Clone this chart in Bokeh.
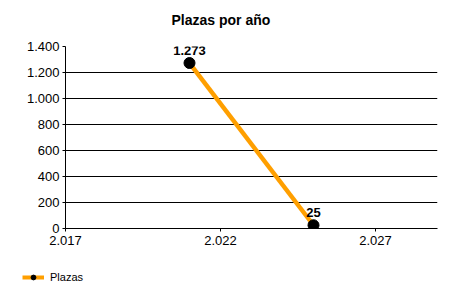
from bokeh.plotting import figure
from bokeh.layouts import column
from bokeh.models import (FixedTicker, CustomJSTickFormatter, Range1d, Legend, LegendItem,
                          ColumnDataSource, LabelSet, Title)
from bokeh.core.properties import value
from bokeh.embed import file_html
from bokeh.resources import INLINE

title = "Plazas por año"
years = [2021, 2025]
plazas = [1273, 25]
value_labels = ["1.273", "25"]
x_ticks = [2017, 2022, 2027]
y_ticks = [0, 200, 400, 600, 800, 1000, 1200, 1400]
series_name = "Plazas"

FONT = "Liberation Sans"
ORANGE = "#FF9F00"

p = figure(width=450, height=262, output_backend="svg", toolbar_location=None,
           x_range=Range1d(2017, 2029), y_range=Range1d(0, 1400),
           min_border_left=65, min_border_right=13, min_border_top=46, min_border_bottom=34)
p.frame_align = False

p.title.text = title
p.title.align = "left"
p.title.text_font = FONT
p.title.text_font_size = "14px"
p.title.text_font_style = "bold"
p.title.text_color = "black"
p.title.offset = 106
p.title.standoff = 0
p.add_layout(Title(text=" ", text_font_size="16px", standoff=0), "above")

p.outline_line_color = None
p.background_fill_color = "white"
p.border_fill_color = "white"

p.xgrid.grid_line_color = None
p.ygrid.grid_line_color = "black"
p.ygrid.grid_line_width = 1
p.ygrid.ticker = FixedTicker(ticks=y_ticks)

fmt = CustomJSTickFormatter(code="""
return Math.round(tick).toString().replace(/\\B(?=(\\d{3})+(?!\\d))/g, '.');
""")

p.xaxis.ticker = FixedTicker(ticks=x_ticks)
p.yaxis.ticker = FixedTicker(ticks=y_ticks)
p.xaxis.formatter = fmt
p.yaxis.formatter = fmt
for ax in (p.xaxis, p.yaxis):
    ax.axis_line_color = "black"
    ax.axis_line_width = 1
    ax.major_tick_line_color = "black"
    ax.major_tick_out = 3
    ax.major_tick_in = 0
    ax.minor_tick_line_color = None
    ax.major_label_text_font = FONT
    ax.major_label_text_font_size = "13px"
    ax.major_label_text_color = "black"
p.xaxis.major_label_standoff = 4
p.yaxis.major_label_standoff = 3

src = ColumnDataSource(dict(x=years, y=plazas, lab=value_labels))
line = p.line("x", "y", source=src, line_color=ORANGE, line_width=4.5)
pts = p.scatter("x", "y", source=src, size=11, fill_color="black", line_color="black")

labels = LabelSet(x="x", y="y", text="lab", source=src, text_align="center",
                  text_baseline="alphabetic", y_offset=8, text_font=value(FONT),
                  text_font_size=value("13px"), text_font_style=value("bold"),
                  text_color=value("black"))
p.add_layout(labels)

# Legend strip below the chart
lg = figure(width=450, height=38, output_backend="svg", toolbar_location=None,
            x_range=Range1d(0, 1), y_range=Range1d(0, 1),
            x_axis_type=None, y_axis_type=None,
            min_border_left=0, min_border_right=0, min_border_top=0, min_border_bottom=0)
lg.frame_align = False
lg.outline_line_color = None
lg.grid.visible = False
lg.background_fill_color = "white"
lg.border_fill_color = "white"
hidden = ColumnDataSource(dict(x=[5], y=[5]))
lline = lg.line("x", "y", source=hidden, line_color=ORANGE, line_width=4)
lpts = lg.scatter("x", "y", source=hidden, size=6, fill_color="black", line_color="black")
legend = Legend(items=[LegendItem(label=series_name, renderers=[lline, lpts])],
                location=(22, 17), orientation="horizontal",
                margin=0, padding=0, glyph_width=22, glyph_height=12,
                label_standoff=6, label_text_font=FONT, label_text_font_size="11px",
                label_text_color="black", border_line_color=None,
                background_fill_alpha=0)
lg.add_layout(legend, "center")

layout = column(p, lg, spacing=0)
open("out.html", "w").write(file_html(layout, INLINE))
